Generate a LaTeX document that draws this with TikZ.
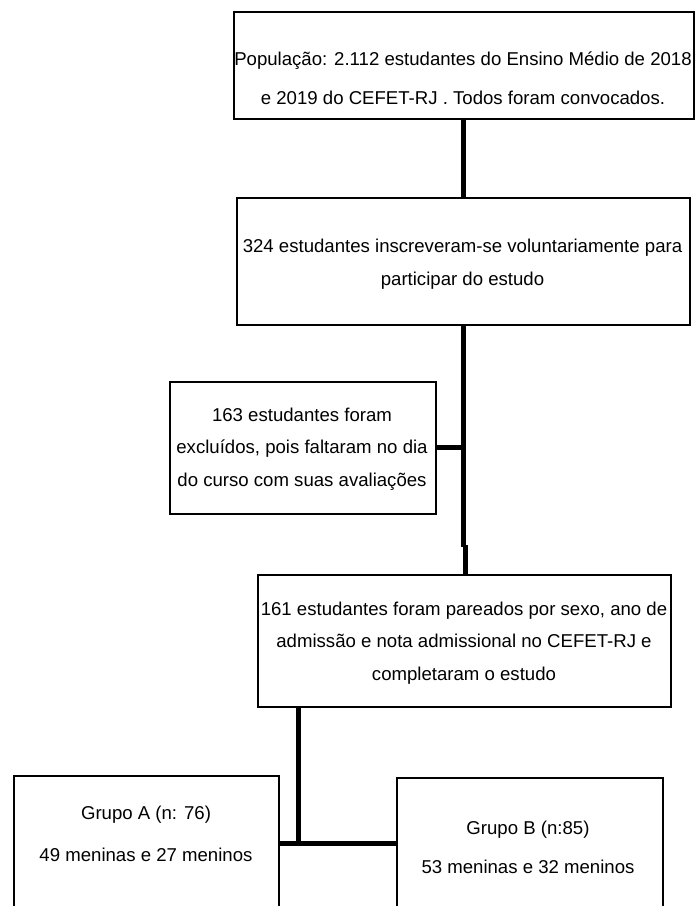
\documentclass[tikz,border=0pt]{standalone}
\usepackage{fontspec}
\setmainfont{Liberation Sans}
\begin{document}
\begin{tikzpicture}[x=1pt,y=-1pt,
  box/.style={draw,line width=2pt,inner sep=0pt,anchor=north west},
  conn/.style={line width=5pt},
  txt/.style={align=center,inner sep=0pt,font=\fontsize{18.6}{32.5}\selectfont},
  txtw/.style={align=center,inner sep=0pt,font=\fontsize{18.6}{39.5}\selectfont}]
\useasboundingbox (0,0) rectangle (695,906);
\clip (0,0) rectangle (695,906);
% boxes
\node[box,minimum width=460pt,minimum height=107pt] (b1) at (233,11) {};
\node[box,minimum width=453pt,minimum height=127pt] (b2) at (236,197) {};
\node[box,minimum width=266pt,minimum height=132pt] (b3) at (169,381) {};
\node[box,minimum width=413pt,minimum height=132pt] (b4) at (257,574) {};
\node[box,minimum width=265pt,minimum height=200pt] (bA) at (13,775) {};
\node[box,minimum width=266pt,minimum height=200pt] (bB) at (396,777) {};
% texts
\node[txtw] (t1) at (463,78) {População: 2.112 estudantes do Ensino Médio de 2018\\e 2019 do CEFET-RJ . Todos foram convocados.};
\node[txt] (t2) at (462.5,264) {324 estudantes inscreveram-se voluntariamente para\\participar do estudo};
\node[txt] (t3) at (302,449) {163 estudantes foram\\excluídos, pois faltaram no dia\\do curso com suas avaliações};
\node[txt] (t4) at (464,643) {161 estudantes foram pareados por sexo, ano de\\admissão e nota admissional no CEFET-RJ e\\completaram o estudo};
\node[txt,font=\fontsize{18.6}{42}\selectfont] (tA) at (146,834) {Grupo A (n: 76)\\49 meninas e 27 meninos};
\node[txt,font=\fontsize{18.6}{39}\selectfont] (tB) at (528,847) {Grupo B (n:85)\\53 meninas e 32 meninos};
% connectors
\coordinate (j1) at (463,447);
\coordinate (k1) at (463,547);
\coordinate (k2) at (465,545);
\coordinate (j2) at (298,843);
\draw[conn] (b1.south -| j1) -- (b2.north -| j1);
\draw[conn] (b2.south -| j1) -- (k1);
\draw[conn] (k2) -- (b4.north -| k2);
\draw[conn] (b3.east |- j1) -- (j1);
\draw[conn] (b4.south -| j2) -- (j2);
\draw[conn] (bA.east |- j2) -- (bB.west |- j2);
\end{tikzpicture}
\end{document}
